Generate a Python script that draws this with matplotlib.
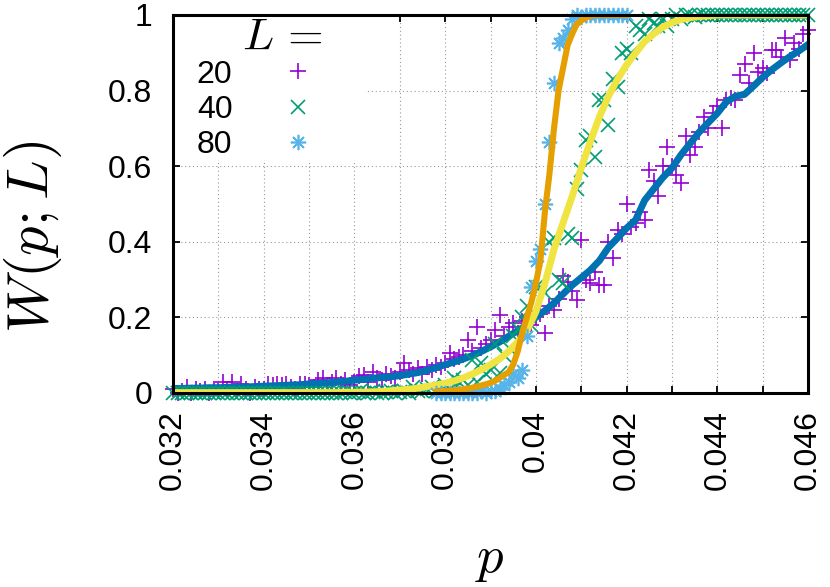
import numpy as np
import matplotlib
matplotlib.use("Agg")
import matplotlib.pyplot as plt
from matplotlib.patches import Rectangle

plt.rcParams['font.family'] = ['Liberation Sans', 'DejaVu Sans']
plt.rcParams['mathtext.fontset'] = 'cm'

# ---------------- data ----------------
sizes = ['20', '40', '80']

p20 = np.round(np.arange(0.0320, 0.04601, 0.0001), 4)
w20 = [0.01, 0.0, 0.005, 0.015, 0.0, 0.01, 0.005, 0.01, 0.0, 0.01,
       0.005, 0.03, 0.01, 0.03, 0.005, 0.025, 0.01, 0.0, 0.015, 0.01,
       0.01, 0.025, 0.02, 0.025, 0.02, 0.025, 0.015, 0.01, 0.025, 0.025,
       0.02, 0.015, 0.035, 0.04, 0.02, 0.03, 0.04, 0.025, 0.035, 0.02,
       0.03, 0.045, 0.048, 0.03, 0.056, 0.04, 0.035, 0.05, 0.045, 0.04,
       0.055, 0.08, 0.06, 0.05, 0.065, 0.05, 0.07, 0.06, 0.075, 0.07,
       0.08, 0.105, 0.09, 0.096, 0.1, 0.14, 0.11, 0.175, 0.12, 0.13,
       0.14, 0.167, 0.206, 0.15, 0.175, 0.185, 0.16, 0.19, 0.2, 0.18,
       0.2, 0.21, 0.16, 0.23, 0.22, 0.25, 0.31, 0.294, 0.27, 0.246,
       0.405, 0.3, 0.29, 0.32, 0.286, 0.286, 0.40, 0.357, 0.43, 0.42,
       0.50, 0.44, 0.45, 0.48, 0.457, 0.59, 0.56, 0.52, 0.60, 0.65,
       0.6, 0.577, 0.556, 0.68, 0.63, 0.65, 0.69, 0.73, 0.70, 0.74,
       0.76, 0.70, 0.775, 0.78, 0.775, 0.84, 0.87, 0.82, 0.90, 0.85,
       0.86, 0.846, 0.907, 0.907, 0.89, 0.94, 0.88, 0.925, 0.91, 0.95, 0.96]

p40 = np.round(np.arange(0.0320, 0.04601, 0.0001), 4)
w40 = [0.0, 0.0, 0.0, 0.0, 0.0, 0.0, 0.0, 0.0, 0.0, 0.0,
       0.0, 0.0, 0.0, 0.0, 0.0, 0.0, 0.0, 0.0, 0.0, 0.0,
       0.0, 0.0, 0.0, 0.0, 0.0, 0.0, 0.0, 0.0, 0.0, 0.0,
       0.0, 0.0, 0.0, 0.0, 0.0, 0.0, 0.0, 0.0, 0.003, 0.0,
       0.0, 0.003, 0.0, 0.0, 0.005, 0.0, 0.0, 0.003, 0.005, 0.0,
       0.003, 0.005, 0.0, 0.016, 0.005, 0.005, 0.01, 0.016, 0.005, 0.01,
       0.02, 0.01, 0.04, 0.03, 0.034, 0.02, 0.087, 0.03, 0.08, 0.05,
       0.06, 0.13, 0.053, 0.10, 0.12, 0.15, 0.17, 0.20, 0.23, 0.18,
       0.28, 0.28, 0.265, 0.40, 0.41, 0.30, 0.29, 0.42, 0.41, 0.54,
       0.59, 0.67, 0.68, 0.625, 0.775, 0.775, 0.71, 0.83, 0.81, 0.90,
       0.91, 0.90, 0.97, 0.96, 0.95, 0.99, 0.98, 0.97, 0.99, 0.97,
       0.99, 1.0, 0.99, 1.0, 1.0, 0.995, 1.0, 1.0, 1.0, 1.0,
       1.0, 1.0, 1.0, 1.0, 1.0, 1.0, 1.0, 1.0, 1.0, 1.0,
       1.0, 1.0, 1.0, 1.0, 1.0, 1.0, 1.0, 1.0, 1.0, 1.0, 1.0]

p80 = np.round(np.arange(0.0378, 0.04201, 0.0001), 4)
w80 = [0.0, 0.0, 0.0, 0.0, 0.0, 0.0, 0.0, 0.0, 0.0, 0.0,
       0.005, 0.0, 0.005, 0.005, 0.01, 0.02, 0.03, 0.05, 0.04, 0.06,
       0.15, 0.28, 0.35, 0.38, 0.50, 0.665, 0.82, 0.925, 0.94, 0.96,
       0.99, 1.0, 0.995, 1.0, 1.0, 1.0, 1.0, 1.0, 1.0, 1.0, 1.0, 1.0, 1.0]

# smooth (fitted) curves
q20 = np.round(np.arange(0.0320, 0.04601, 0.0002), 4)
f20 = [0.012, 0.012, 0.013, 0.013, 0.014, 0.014, 0.015, 0.016, 0.016, 0.017,
       0.018, 0.019, 0.020, 0.021, 0.022, 0.024, 0.025, 0.027, 0.029, 0.031,
       0.034, 0.036, 0.039, 0.041, 0.043, 0.046, 0.050, 0.054, 0.060, 0.067,
       0.075, 0.082, 0.090, 0.099, 0.110, 0.122, 0.135, 0.150, 0.165, 0.180,
       0.200, 0.218, 0.238, 0.262, 0.285, 0.305, 0.325, 0.350, 0.385, 0.410,
       0.436, 0.458, 0.510, 0.540, 0.570, 0.595, 0.630, 0.660, 0.690, 0.715,
       0.740, 0.770, 0.785, 0.790, 0.812, 0.835, 0.855, 0.873, 0.890, 0.905,
       0.922]

q40 = np.round(np.arange(0.0320, 0.04601, 0.0002), 4)
f40 = [0.001, 0.001, 0.001, 0.001, 0.001, 0.001, 0.001, 0.001, 0.001, 0.001,
       0.001, 0.001, 0.001, 0.001, 0.001, 0.001, 0.001, 0.001, 0.001, 0.002,
       0.002, 0.002, 0.003, 0.004, 0.006, 0.008, 0.010, 0.013, 0.017, 0.021,
       0.026, 0.032, 0.040, 0.050, 0.062, 0.075, 0.090, 0.110, 0.135, 0.165,
       0.215, 0.290, 0.380, 0.450, 0.520, 0.595, 0.665, 0.730, 0.785, 0.830,
       0.868, 0.900, 0.930, 0.950, 0.968, 0.980, 0.988, 0.993, 0.996, 0.998,
       1.0, 1.0, 1.0, 1.0, 1.0, 1.0, 1.0, 1.0, 1.0, 1.0,
       1.0]

q80 = np.round(np.arange(0.0378, 0.04201, 0.0001), 4)
f80 = [0.003, 0.004, 0.005, 0.006, 0.007, 0.008, 0.010, 0.012, 0.014, 0.017,
       0.020, 0.023, 0.027, 0.032, 0.040, 0.048, 0.055, 0.075, 0.11, 0.16,
       0.20, 0.24, 0.29, 0.35, 0.48, 0.58, 0.70, 0.80, 0.86, 0.92,
       0.95, 0.975, 0.985, 0.993, 0.997, 1.0, 1.0, 1.0, 1.0, 1.0, 1.0, 1.0, 1.0]

xticks_major = [0.032, 0.034, 0.036, 0.038, 0.040, 0.042, 0.044, 0.046]
xtick_labels = ['0.032', '0.034', '0.036', '0.038', '0.04', '0.042', '0.044', '0.046']
xticks_all = np.round(np.arange(0.032, 0.04601, 0.001), 3)
yticks = [0, 0.2, 0.4, 0.6, 0.8, 1.0]
ytick_labels = ['0', '0.2', '0.4', '0.6', '0.8', '1']

# ---------------- style ----------------
c20, c40, c80 = '#9400d3', '#009e73', '#56b4e9'
l20, l40, l80 = '#0072b2', '#f0e442', '#e69f00'

fig = plt.figure(figsize=(8.30, 5.87), dpi=100)
ax = fig.add_axes([173/830, 1-393/587, 635/830, 378/587])

h20, = ax.plot(p20, w20, linestyle='none', marker='+', ms=11, mew=1.2,
               color=c20, clip_on=False, zorder=3)
ax.plot(q20, f20, color=l20, lw=5.0, solid_joinstyle='round', zorder=4)
h40, = ax.plot(p40, w40, linestyle='none', marker='x', ms=10, mew=1.2,
               color=c40, clip_on=False, zorder=5)
ax.plot(q40, f40, color=l40, lw=5.0, solid_joinstyle='round', zorder=6)
h80, = ax.plot(p80, w80, linestyle='none', marker=(8, 2, 0), ms=11, mew=1.2,
               color=c80, clip_on=False, zorder=7)
ax.plot(q80, f80, color=l80, lw=4.4, solid_joinstyle='round', zorder=8)

ax.set_xlim(0.032, 0.046)
ax.set_ylim(0, 1)

ax.set_xticks(xticks_all)
lab_map = {round(m, 3): l for m, l in zip(xticks_major, xtick_labels)}
ax.set_xticklabels([lab_map.get(round(float(t), 3), '') for t in xticks_all],
                   rotation=90, fontsize=23)
ax.set_yticks(yticks)
ax.set_yticklabels(ytick_labels, fontsize=23)

ax.tick_params(axis='both', which='both', direction='in', length=5, width=1.3,
               top=True, right=True)
ax.tick_params(axis='x', pad=12)
ax.tick_params(axis='y', pad=15)
for s in ax.spines.values():
    s.set_linewidth(2.2)
    s.set_zorder(10)

ax.set_axisbelow(True)
ax.grid(True, color='#9a9a9a', linestyle=(0, (1, 2.5)), linewidth=0.8)

# legend box (opaque, hides grid)
ax.add_patch(Rectangle((0, (393-160)/378), (365-173)/635, 1 - (393-160)/378,
                       transform=ax.transAxes, facecolor='white', edgecolor='none',
                       zorder=1))
leg = ax.legend([h20, h40, h80], sizes, loc='upper left',
                bbox_to_anchor=(0.0375, 0.882), frameon=False, markerfirst=False,
                fontsize=23, handlelength=1.0, handletextpad=1.55,
                labelspacing=0.16, borderpad=0.0, borderaxespad=0.0)
leg.set_zorder(12)
ax.text(0.108, 0.94, r'$L\,=$', transform=ax.transAxes, fontsize=33,
        ha='left', va='center', zorder=12)

fig.text(0.040, 1 - 237/587, r'$W(p;L)$', rotation=90, fontsize=42, ha='center', va='center')
fig.text(490/830, 1 - 572/587, r'$p$', fontsize=38, ha='center', va='baseline')

fig.savefig('out.png', dpi=100)
